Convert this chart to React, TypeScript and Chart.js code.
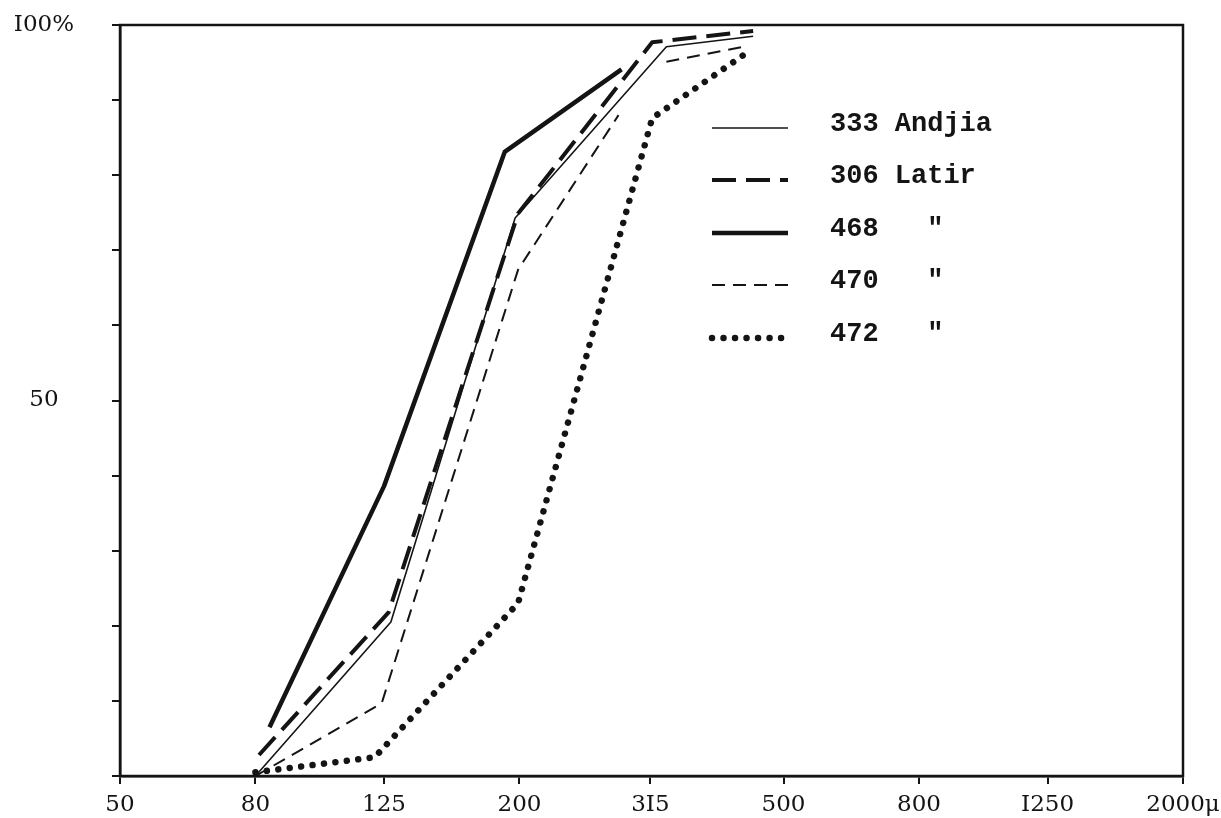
import React, { useEffect, useRef } from 'react';
import { Chart, registerables } from 'chart.js';

Chart.register(...registerables);

// X axis (grain size, microns, log scale)
const xTickValues = [50, 80, 125, 200, 315, 500, 800, 1250, 2000];
const xTickLabels = ['50', '80', '125', '200', '3I5', '500', '800', 'I250', '2000μ'];
// Y axis (cumulative %)
const yTickLabels: Record<number, string> = { 100: 'I00%', 50: '50' };

const seriesLabels = ['333 Andjia', '306 Latir', '468   "', '470   "', '472   "'];

const x333 = [80, 128, 197, 333, 450];
const y333 = [0, 20.5, 74.3, 97.1, 98.5];

const x306 = [81, 127, 199, 317, 450];
const y306 = [2.8, 21.8, 74.9, 97.7, 99.2];

const x468 = [84, 125, 190, 285];
const y468 = [6.5, 38.6, 83.1, 94.1];

const x470 = [80, 124, 199, 282, 300, 333, 441];
const y470 = [0, 9.7, 67.4, 88.0, null, 95.1, 97.2];

const x472 = [80, 121, 199, 317, 447];
const y472 = [0.5, 2.5, 23.0, 87.6, 96.7];

const toPoints = (xs: number[], ys: (number | null)[]) => xs.map((x, i) => ({ x, y: ys[i] }));

const INK = '#141414';

const frameAndLegend = {
  id: 'frameAndLegend',
  afterDatasetsDraw(chart: any) {
    const { ctx, chartArea } = chart;
    ctx.save();
    ctx.strokeStyle = INK;
    ctx.lineWidth = 2.5;
    ctx.setLineDash([]);
    ctx.strokeRect(chartArea.left, chartArea.top, chartArea.right - chartArea.left, chartArea.bottom - chartArea.top);

    const rows = [128, 180, 233, 285, 338];
    const lx1 = 712, lx2 = 788, tx = 830;
    chart.data.datasets.forEach((ds: any, i: number) => {
      const y = rows[i];
      ctx.save();
      ctx.strokeStyle = INK;
      ctx.lineWidth = ds.borderWidth;
      ctx.lineCap = ds.borderCapStyle || 'butt';
      ctx.setLineDash(ds.borderDash || []);
      ctx.beginPath();
      ctx.moveTo(lx1, y);
      ctx.lineTo(lx2, y);
      ctx.stroke();
      ctx.restore();
      ctx.fillStyle = INK;
      ctx.font = 'bold 27px "Liberation Mono", "DejaVu Sans Mono", monospace';
      ctx.textBaseline = 'middle';
      ctx.textAlign = 'left';
      ctx.fillText(ds.label, tx, y - 4);
    });
    ctx.restore();
  },
};

export default function App() {
  const ref = useRef<HTMLCanvasElement | null>(null);

  useEffect(() => {
    if (!ref.current) return;
    const common = { borderColor: INK, pointRadius: 0, tension: 0, fill: false, borderJoinStyle: 'round' as const };
    const chart = new Chart(ref.current, {
      type: 'line',
      data: {
        datasets: [
          { ...common, label: seriesLabels[0], data: toPoints(x333, y333), borderWidth: 1.6 },
          { ...common, label: seriesLabels[1], data: toPoints(x306, y306), borderWidth: 4, borderDash: [24, 10] },
          { ...common, label: seriesLabels[2], data: toPoints(x468, y468), borderWidth: 4.5 },
          { ...common, label: seriesLabels[3], data: toPoints(x470, y470), borderWidth: 2, borderDash: [13, 8] },
          { ...common, label: seriesLabels[4], data: toPoints(x472, y472), borderWidth: 6.5, borderDash: [0.01, 11.5], borderCapStyle: 'round' },
        ] as any,
      },
      options: {
        responsive: false,
        animation: false,
        spanGaps: false,
        layout: { padding: { top: 25, right: 38, left: 0, bottom: 0 } },
        plugins: { legend: { display: false }, tooltip: { enabled: false } },
        scales: {
          x: {
            type: 'logarithmic',
            min: 50,
            max: 2000,
            afterBuildTicks: (scale: any) => {
              scale.ticks = xTickValues.map((v) => ({ value: v }));
            },
            afterFit: (scale: any) => {
              scale.height = 42;
              scale.paddingLeft = 0;
              scale.paddingRight = 0;
            },
            ticks: {
              autoSkip: false,
              maxRotation: 0,
              padding: 7,
              color: INK,
              font: { family: '"DejaVu Serif", serif', size: 23 },
              callback: (_v: any, i: number) => xTickLabels[i],
            },
            grid: { drawOnChartArea: false, drawTicks: true, tickLength: 8, color: INK, lineWidth: 2 },
            border: { display: true, color: INK, width: 2.5 },
          },
          y: {
            type: 'linear',
            min: 0,
            max: 100,
            afterFit: (scale: any) => {
              scale.width = 120;
              scale.paddingTop = 0;
              scale.paddingBottom = 0;
            },
            ticks: {
              stepSize: 10,
              autoSkip: false,
              crossAlign: 'center',
              padding: 38,
              color: INK,
              font: { family: '"DejaVu Serif", serif', size: 23 },
              callback: (v: any) => yTickLabels[v as number] ?? '',
            },
            grid: { drawOnChartArea: false, drawTicks: true, tickLength: 8, color: INK, lineWidth: 2 },
            border: { display: true, color: INK, width: 2.5 },
          },
        },
      } as any,
      plugins: [frameAndLegend],
    });
    return () => chart.destroy();
  }, []);

  return (
    <div style={{ position: 'absolute', left: 0, top: 0, width: 1221, height: 818, background: '#fff' }}>
      <canvas ref={ref} width={1221} height={818} style={{ display: 'block' }} />
    </div>
  );
}
